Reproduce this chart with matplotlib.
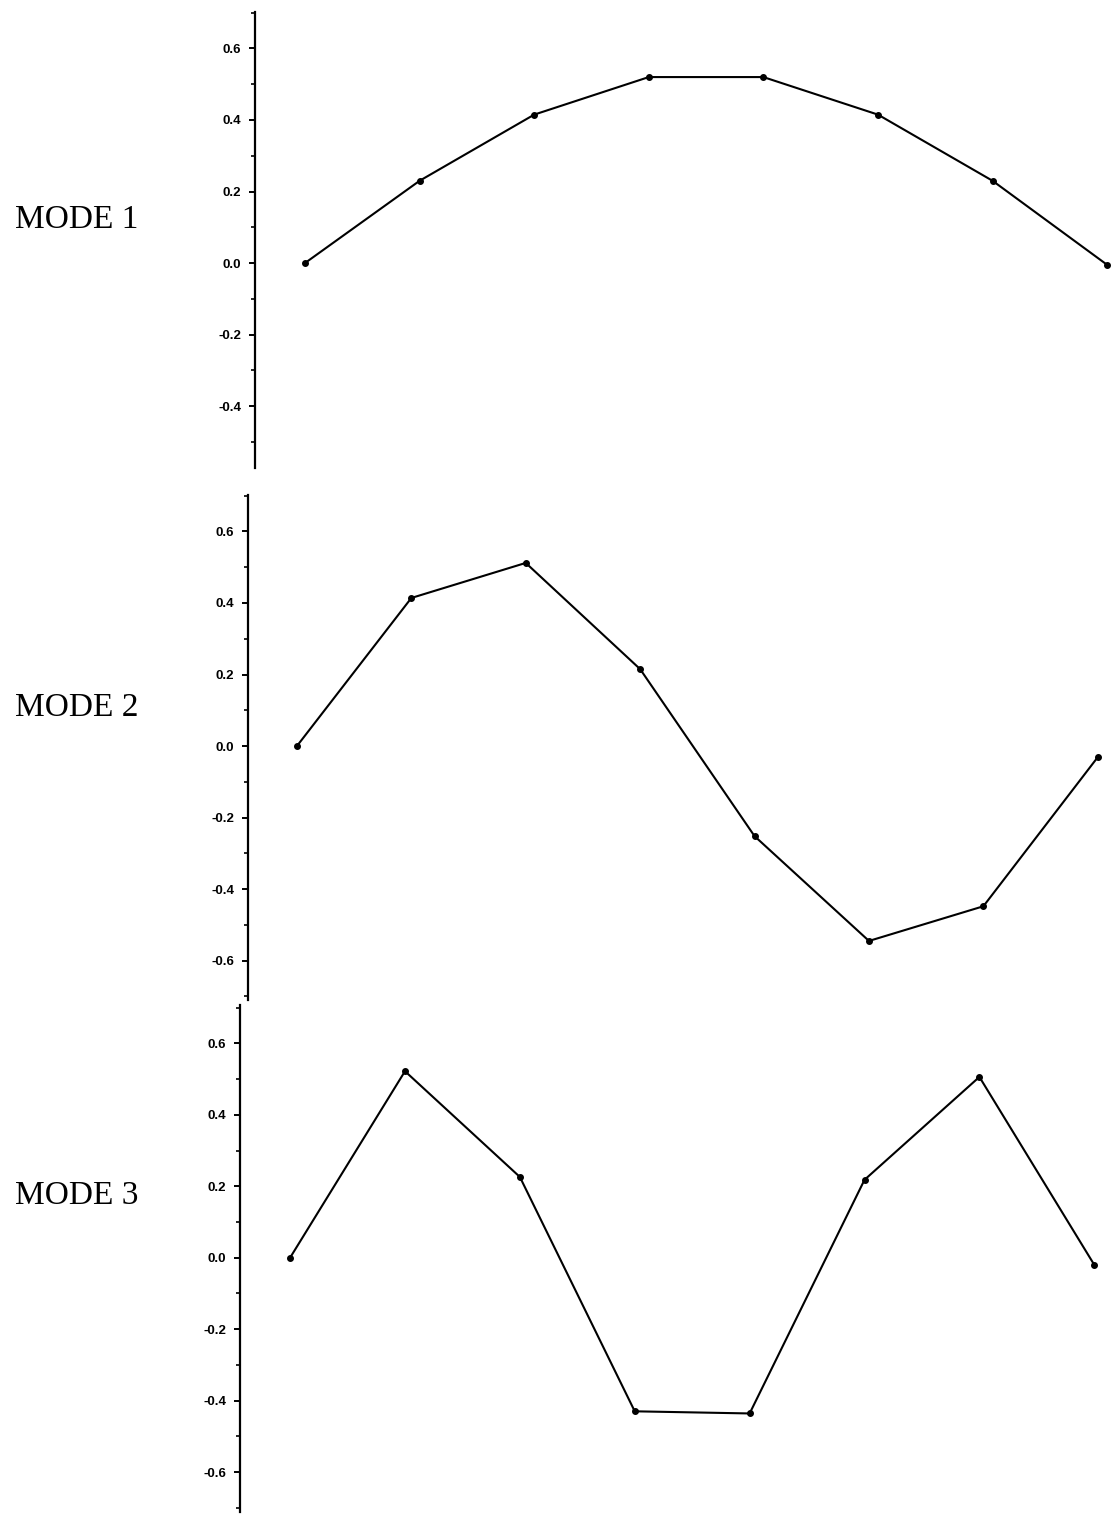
import matplotlib
matplotlib.use('Agg')
import matplotlib.pyplot as plt
import numpy as np
from matplotlib.ticker import MultipleLocator, FormatStrFormatter

# mode shapes, 8 nodes each
nodes = [1, 2, 3, 4, 5, 6, 7, 8]
mode1 = [0.0, 0.23, 0.415, 0.52, 0.52, 0.415, 0.23, -0.005]
mode2 = [0.0, 0.414, 0.512, 0.215, -0.252, -0.545, -0.448, -0.031]
mode3 = [0.0, 0.522, 0.226, -0.43, -0.436, 0.218, 0.506, -0.02]
mode_names = ['MODE 1', 'MODE 2', 'MODE 3']

fig = plt.figure(figsize=(11.2, 15.16), dpi=100)

# axes boxes (left, bottom, width, height) and limits per panel
boxes = [[0.2277, 0.6913, 0.7678, 0.3008],
         [0.2214, 0.3404, 0.7741, 0.3331],
         [0.2143, 0.0026, 0.7812, 0.3344]]
xlims = [(0.564, 8.068), (0.572, 8.15), (0.564, 8.18)]
ylims = [(-0.573, 0.702), (-0.710, 0.702), (-0.712, 0.707)]
label_y = [0.855, 0.533, 0.211]

for i, ys in enumerate([mode1, mode2, mode3]):
    ax = fig.add_axes(boxes[i])
    ax.plot(nodes, ys, color='black', lw=1.5, marker='o', ms=4)
    ax.set_xlim(xlims[i])
    ax.set_ylim(ylims[i])
    for s in ['top', 'right', 'bottom']:
        ax.spines[s].set_visible(False)
    ax.spines['left'].set_linewidth(1.6)
    ax.set_xticks([])
    ax.yaxis.set_major_locator(MultipleLocator(0.2))
    ax.yaxis.set_minor_locator(MultipleLocator(0.1))
    ax.yaxis.set_major_formatter(FormatStrFormatter('%.1f'))
    ax.tick_params(axis='y', which='major', length=4, width=1.4, pad=6,
                   labelsize=9.5)
    ax.tick_params(axis='y', which='minor', length=3, width=1.2)
    for t in ax.get_yticklabels():
        t.set_fontweight('bold')
        t.set_family('Liberation Sans')
    fig.text(0.013, label_y[i], mode_names[i], fontsize=24,
             family='Liberation Serif', va='center', ha='left')

fig.savefig('out.png', dpi=100)
